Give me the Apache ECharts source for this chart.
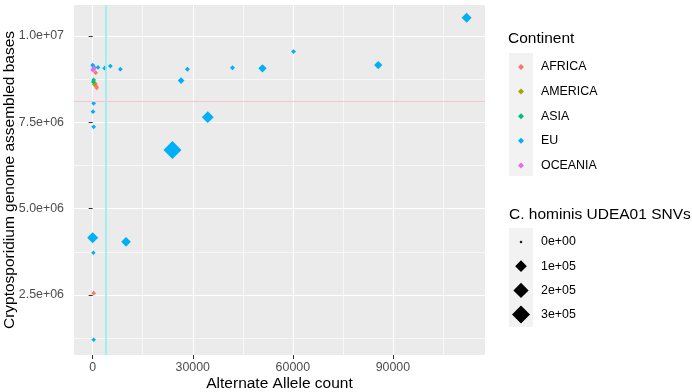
<!DOCTYPE html>
<html>
<head>
<meta charset="utf-8">
<script src="https://cdn.jsdelivr.net/npm/echarts@6/dist/echarts.min.js"></script>
<style>
html, body { margin: 0; padding: 0; background: #fff; }
#chart { width: 692px; height: 392px; }
</style>
</head>
<body>
<div id="chart"></div>
<script>
const continents = ["AFRICA", "AMERICA", "ASIA", "EU", "OCEANIA"]
const continentColors = ["#F8766D", "#A3A500", "#00BF7D", "#00B0F6", "#E76BF3"]

// one entry per sample
const sampleContinent = [
    "EU", "EU", "EU", "EU", "EU", "EU", "EU", "EU", "EU", "EU",
    "EU", "EU", "EU", "EU", "EU", "EU", "EU", "EU", "EU", "EU",
    "EU", "EU", "EU",
    "ASIA", "ASIA", "AMERICA",
    "AFRICA", "AFRICA", "AFRICA", "AFRICA", "AFRICA",
    "OCEANIA", "OCEANIA"
]
const altAlleleCount = [
    112100, 85600, 60200, 50900, 41900, 34500, 28400, 26500, 23900, 10000,
    0, 200, 300, 300, 100, 300, 8300, 5300, 3600, 1600,
    0, 300, 400,
    300, 200, 500,
    900, 800, 1000, 1200, 300,
    100, 300
]
const assembledBases = [
    10530000, 9160000, 9550000, 9065000, 9080000, 7650000, 9040000, 8710000, 6700000, 4040000,
    4160000, 3720000, 1200000, 7370000, 7810000, 8050000, 9040000, 9130000, 9070000, 9090000,
    9160000, 9110000, 9060000,
    8730000, 8670000, 8600000,
    8940000, 8620000, 8550000, 8500000, 2550000,
    9020000, 9070000
]
const snvCount = [
    65000, 37000, 5000, 37000, 5000, 105000, 5000, 18000, 300000, 60000,
    85000, 3000, 3000, 4000, 4000, 4000, 4000, 4000, 4000, 4000,
    4000, 4000, 4000,
    4000, 4000, 4000,
    4000, 4000, 4000, 4000, 4000,
    8000, 4000
]

const xTicks = [0, 30000, 60000, 90000]
const xMinorTicks = [15000, 45000, 75000, 105000]
const yTicks = [2500000, 5000000, 7500000, 10000000]
const yTickLabels = ["2.5e+06", "5.0e+06", "7.5e+06", "1.0e+07"]
const yMinorTicks = [1250000, 3750000, 6250000, 8750000]
const snvBreaks = [0, 100000, 200000, 300000]
const snvBreakLabels = ["0e+00", "1e+05", "2e+05", "3e+05"]

const altAlleleCutoff = 4000
const assembledCutoff = 8120000

const FONT = "'Liberation Sans', Arial, sans-serif"
const X_MIN = -5600, X_MAX = 117600
const Y_MIN = 760000, Y_MAX = 10900000

// area-style size scale, width in px
function diamondSize(snv){
    return 3 + 15 * Math.sqrt(snv / 300000)
}

let myChart = echarts.init(document.getElementById("chart"))

let series = continents.map((name, i) => {
    let data = []
    sampleContinent.forEach((c, k) => {
        if (c === name) data.push([altAlleleCount[k], assembledBases[k], snvCount[k]])
    })
    return {
        name: name,
        type: "scatter",
        symbol: "diamond",
        symbolSize: d => diamondSize(d[2]),
        itemStyle: { color: continentColors[i], opacity: 1 },
        emphasis: { disabled: true },
        z: name === "EU" ? 3 : 4,
        data: data
    }
})

// cutoff lines, one series each
series.unshift({
    name: "altCutoff",
    type: "scatter",
    data: [],
    z: 2,
    markLine: {
        silent: true,
        symbol: "none",
        label: { show: false },
        animation: false,
        lineStyle: { color: "#8DF1F3", width: 1.6, type: "solid", opacity: 1 },
        data: [{ xAxis: altAlleleCutoff }]
    }
}, {
    name: "basesCutoff",
    type: "scatter",
    data: [],
    z: 2,
    markLine: {
        silent: true,
        symbol: "none",
        label: { show: false },
        animation: false,
        lineStyle: { color: "#FFC0CB", width: 1, type: "solid", opacity: 1 },
        data: [{ yAxis: assembledCutoff }]
    }
})

let graphic = [
    { type: "text", x: 508, y: 39, style: { text: "Continent", font: "15.5px " + FONT, fill: "#000", verticalAlign: "middle" } },
    { type: "rect", z: -1, shape: { x: 509, y: 53, width: 24, height: 123 }, style: { fill: "#F2F2F2" } },
    { type: "text", x: 509, y: 215, style: { text: "C. hominis UDEA01 SNVs", font: "15.5px " + FONT, fill: "#000", verticalAlign: "middle" } },
    { type: "rect", z: -1, shape: { x: 509, y: 228, width: 24, height: 99 }, style: { fill: "#F2F2F2" } }
]
snvBreaks.forEach((b, i) => {
    let cy = 242 + 24.2 * i
    let h = diamondSize(b) / 2
    graphic.push({
        type: "polygon",
        shape: { points: [[521, cy - h], [521 + h, cy], [521, cy + h], [521 - h, cy]] },
        style: { fill: "#000" }
    })
    graphic.push({
        type: "text", x: 541, y: cy,
        style: { text: snvBreakLabels[i], font: "12.4px " + FONT, fill: "#000", verticalAlign: "middle" }
    })
})

let option = {
    animation: false,
    textStyle: { fontFamily: FONT },
    grid: {
        left: 74,
        top: 5,
        width: 411,
        height: 350,
        show: true,
        backgroundColor: "#EBEBEB",
        borderWidth: 0,
        containLabel: false,
        outerBoundsMode: "none"
    },
    legend: {
        data: continents,
        orient: "vertical",
        left: 518,
        top: 60,
        padding: 0,
        icon: "diamond",
        itemWidth: 6,
        itemHeight: 6,
        itemGap: 10.6,
        selectedMode: false,
        textStyle: { fontSize: 12.4, color: "#000", lineHeight: 14, padding: [0, 0, 0, 12], fontFamily: FONT }
    },
    xAxis: [
        {
            type: "value",
            min: X_MIN,
            max: X_MAX,
            name: "Alternate Allele count",
            nameLocation: "middle",
            nameGap: 21,
            nameMoveOverlap: false,
            nameTextStyle: { fontSize: 15.5, color: "#000", fontFamily: FONT },
            axisLine: { show: false },
            axisTick: { show: true, length: 4, lineStyle: { color: "#333" }, customValues: xTicks },
            axisLabel: {
                customValues: xTicks,
                color: "#4D4D4D",
                fontSize: 12.4,
                margin: 7,
                fontFamily: FONT,
                formatter: v => String(v)
            },
            splitLine: { show: true, lineStyle: { color: "#fff", width: 1.1 } }
        },
        {
            type: "value",
            min: X_MIN,
            max: X_MAX,
            position: "bottom",
            axisLine: { show: false },
            axisTick: { show: false, customValues: xMinorTicks },
            axisLabel: { show: false, customValues: xMinorTicks },
            splitLine: { show: true, lineStyle: { color: "#fff", width: 0.6 } }
        }
    ],
    yAxis: [
        {
            type: "value",
            min: Y_MIN,
            max: Y_MAX,
            name: "Cryptosporidium genome assembled bases",
            nameLocation: "middle",
            nameGap: 56,
            nameMoveOverlap: false,
            nameTextStyle: { fontSize: 15.5, color: "#000", fontFamily: FONT },
            axisLine: { show: false },
            axisTick: { show: true, length: 4, lineStyle: { color: "#333" }, customValues: yTicks },
            axisLabel: {
                customValues: yTicks,
                color: "#4D4D4D",
                fontSize: 12.4,
                margin: 10,
                fontFamily: FONT,
                formatter: v => yTickLabels[yTicks.indexOf(v)]
            },
            splitLine: { show: true, lineStyle: { color: "#fff", width: 1.1 } }
        },
        {
            type: "value",
            min: Y_MIN,
            max: Y_MAX,
            position: "left",
            axisLine: { show: false },
            axisTick: { show: false, customValues: yMinorTicks },
            axisLabel: { show: false, customValues: yMinorTicks },
            splitLine: { show: true, lineStyle: { color: "#fff", width: 0.6 } }
        }
    ],
    graphic: graphic,
    series: series
}
myChart.setOption(option)
</script>
</body>
</html>
